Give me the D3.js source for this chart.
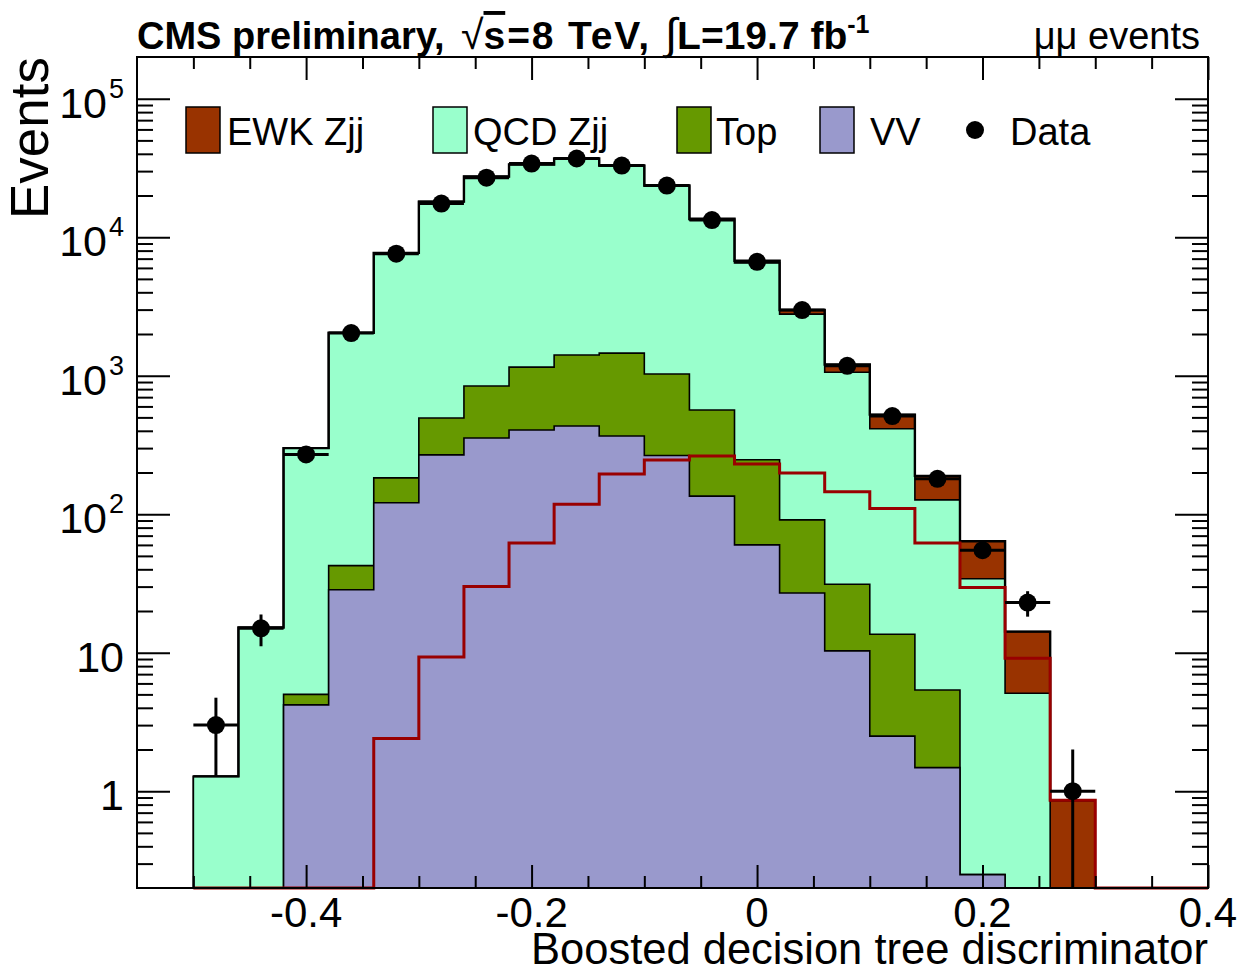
<!DOCTYPE html>
<html><head><meta charset="utf-8">
<script src="https://cdn.jsdelivr.net/npm/d3@7"></script>
<style>
body{margin:0;background:#fff}
text{font-family:"Liberation Sans",Arial,Helvetica,sans-serif;fill:#000}
</style>
</head><body>
<svg id="c" width="1239" height="973"></svg>
<script>
// ---------------- data ----------------
const binCenters = [-0.48,-0.44,-0.40,-0.36,-0.32,-0.28,-0.24,-0.20,-0.16,-0.12,-0.08,-0.04,0.00,0.04,0.08,0.12,0.16,0.20,0.24,0.28];
const binWidth = 0.04;
const vvBkg   = [0, 0, 4.2, 28.5, 121, 268, 355, 405, 433, 367, 265, 135, 60, 27, 10.3, 2.5, 1.48, 0.25, 0, 0];
const topBkg  = [0, 0, 0.8, 14, 62, 227, 487, 748, 976, 1089, 763, 431, 187, 64, 20.9, 11.1, 3.9, 0, 0, 0];
const qcdZjj  = [1.28, 15.2, 295, 1998, 7526, 17567, 26528, 32285, 35473, 31249, 22326, 12771, 6283, 2691, 1027, 400, 121.6, 33.9, 5.1, 0];
const ewkZjj  = [0, 0, 0, 0, 2.4, 9.3, 30, 62, 118, 195, 246, 263, 230, 198, 145, 110, 62, 29.6, 9.1, 0.86];
const dataCounts = [3, 15, 270, 2030, 7600, 17500, 26900, 34000, 37000, 32900, 23600, 13300, 6640, 2980, 1178, 511, 180, 55, 23, 1];

const legendLabels = ["EWK Zjj", "QCD Zjj", "Top", "VV", "Data"];
const xTickValues = [-0.4, -0.2, 0, 0.2, 0.4];
const xTickLabels = ["-0.4", "-0.2", "0", "0.2", "0.4"];
const yTickValues = [1, 10, 100, 1000, 10000, 100000];
const yTickBase   = ["1", "10", "10", "10", "10", "10"];
const yTickExp    = ["", "", "2", "3", "4", "5"];

// ---------------- layout / style ----------------
const plot = {l:137, t:57, r:1208, b:888};
const xDomain = [-0.55, 0.4];
const yDomain = [0.2, 2e5];
const colors = {ewk:"#993300", qcd:"#99ffcc", top:"#669900", vv:"#9999cc", sig:"#990000"};

const svg = d3.select("#c");
const x = d3.scaleLinear().domain(xDomain).range([plot.l, plot.r]);
const y = d3.scaleLog().domain(yDomain).range([plot.b, plot.t]);
const yMin = yDomain[0];
const yc = v => y(Math.max(v, yMin));

// cumulative stacks
const cumVV  = vvBkg.slice();
const cumTop = cumVV.map((v,i)=>v+topBkg[i]);
const cumQCD = cumTop.map((v,i)=>v+qcdZjj[i]);
const cumEWK = cumQCD.map((v,i)=>v+ewkZjj[i]);

const stepPts = vals => vals.flatMap((v,i)=>[{x:binCenters[i]-binWidth/2, v},{x:binCenters[i]+binWidth/2, v}]);
const area = d3.area().x(d=>x(d.x)).y0(plot.b).y1(d=>yc(d.v));
const line = d3.line().x(d=>x(d.x)).y(d=>yc(d.v));

const g = svg.append("g");
[[cumEWK, colors.ewk],[cumQCD, colors.qcd],[cumTop, colors.top],[cumVV, colors.vv]].forEach(([vals,col])=>{
  g.append("path").attr("d", area(stepPts(vals)))
    .attr("fill", col).attr("stroke", "#000").attr("stroke-width", 1.6).attr("stroke-linejoin","miter");
});
// total outline
g.append("path").attr("d", line(stepPts(cumEWK))).attr("fill","none").attr("stroke","#000").attr("stroke-width",2.4);

// EWK signal line (unstacked)
const sigPts = stepPts(ewkZjj);
sigPts.push({x: binCenters[binCenters.length-1]+binWidth/2, v:0}, {x: xDomain[1], v:0});
g.append("path").attr("d", line(sigPts)).attr("fill","none").attr("stroke",colors.sig).attr("stroke-width",3);

// data with error bars
const dg = svg.append("g");
dataCounts.forEach((n,i)=>{
  const c = binCenters[i], e = Math.sqrt(n);
  dg.append("line").attr("x1", x(c)).attr("x2", x(c)).attr("y1", yc(n+e)).attr("y2", yc(n-e))
    .attr("stroke","#000").attr("stroke-width",3);
  dg.append("line").attr("x1", x(c-binWidth/2)).attr("x2", x(c+binWidth/2)).attr("y1", y(n)).attr("y2", y(n))
    .attr("stroke","#000").attr("stroke-width",3);
  dg.append("circle").attr("cx", x(c)).attr("cy", y(n)).attr("r", 9).attr("fill","#000");
});

// ---------------- axes ----------------
const yMinor = [];
for (let d = 0.1; d <= 1e5; d *= 10) for (let m = 2; m <= 9; m++) {
  const v = +(m*d).toPrecision(3);
  if (v > yDomain[0] && v < yDomain[1]) yMinor.push(v);
}
const xMinor = d3.range(-0.5, 0.4, 0.05).map(v=>+v.toFixed(2)).filter(v=>!xTickValues.some(t=>Math.abs(t-v)<1e-6));

function tickAxis(gen, tx, ty){
  const a = svg.append("g").attr("transform",`translate(${tx},${ty})`).call(gen);
  a.select(".domain").remove();
  a.selectAll(".tick line").attr("stroke","#000").attr("stroke-width",2);
  a.selectAll(".tick text").remove();
}
tickAxis(d3.axisLeft(y).tickValues(yTickValues).tickSize(-33).tickFormat(""), plot.l, 0);
tickAxis(d3.axisLeft(y).tickValues(yMinor).tickSize(-16).tickFormat(""), plot.l, 0);
tickAxis(d3.axisRight(y).tickValues(yTickValues).tickSize(-33).tickFormat(""), plot.r, 0);
tickAxis(d3.axisRight(y).tickValues(yMinor).tickSize(-16).tickFormat(""), plot.r, 0);
tickAxis(d3.axisBottom(x).tickValues(xTickValues).tickSize(-23).tickFormat(""), 0, plot.b);
tickAxis(d3.axisBottom(x).tickValues(xMinor).tickSize(-12).tickFormat(""), 0, plot.b);
tickAxis(d3.axisTop(x).tickValues(xTickValues).tickSize(-23).tickFormat(""), 0, plot.t);
tickAxis(d3.axisTop(x).tickValues(xMinor).tickSize(-12).tickFormat(""), 0, plot.t);

// frame
svg.append("rect").attr("x",plot.l).attr("y",plot.t).attr("width",plot.r-plot.l).attr("height",plot.b-plot.t)
  .attr("fill","none").attr("stroke","#000").attr("stroke-width",2);

// tick labels
xTickValues.forEach((v,i)=>{
  svg.append("text").attr("x", x(v)).attr("y", 927).attr("text-anchor","middle")
    .attr("font-size", 42).text(xTickLabels[i]);
});
yTickValues.forEach((v,i)=>{
  const t = svg.append("text").attr("x", 124).attr("y", y(v)+19).attr("text-anchor","end").attr("font-size",43);
  t.append("tspan").text(yTickBase[i]);
  if (yTickExp[i]) t.append("tspan").attr("dx", 2).attr("dy", -20).attr("font-size", 27).text(yTickExp[i]);
});

// axis titles
svg.append("text").attr("x", plot.r).attr("y", 964).attr("text-anchor","end").attr("font-size",43.5)
  .text("Boosted decision tree discriminator");
svg.append("text").attr("transform",`translate(48,${plot.t}) rotate(-90)`).attr("text-anchor","end")
  .attr("font-size",53).text("Events");

// header
const h1 = svg.append("text").attr("x",137).attr("y",49).attr("font-size",38).attr("font-weight","bold");
h1.text("CMS preliminary,");
const h2 = svg.append("text").attr("x",461).attr("y",49).attr("font-size",39).attr("font-weight","bold");
h2.append("tspan").attr("font-weight","normal").attr("font-size",41).text("\u221A");
h2.append("tspan").style("text-decoration","overline").text("s");
h2.append("tspan").attr("dx",2).attr("letter-spacing",1.8).text("=8 TeV,");
const h3 = svg.append("text").attr("x",665).attr("y",49).attr("font-size",39).attr("font-weight","bold");
h3.append("tspan").attr("font-weight","normal").attr("font-size",44).text("\u222B");
h3.append("tspan").text("L=19.7 fb");
h3.append("tspan").attr("dy",-16).attr("font-size",25).text("-1");
svg.append("text").attr("x",1200).attr("y",49).attr("text-anchor","end").attr("font-size",38).text("\u03BC\u03BC events");

// legend
const legX = [186, 433, 677, 820];
const legTextX = [227, 473, 716, 870, 1010];
const legCols = [colors.ewk, colors.qcd, colors.top, colors.vv];
legCols.forEach((c,i)=>{
  svg.append("rect").attr("x",legX[i]).attr("y",107).attr("width",34).attr("height",46)
    .attr("fill",c).attr("stroke","#000").attr("stroke-width",1.5);
});
svg.append("circle").attr("cx",975).attr("cy",130).attr("r",9).attr("fill","#000");
legendLabels.forEach((t,i)=>{
  svg.append("text").attr("x",legTextX[i]).attr("y",145).attr("font-size",38).text(t);
});
</script>
</body></html>
